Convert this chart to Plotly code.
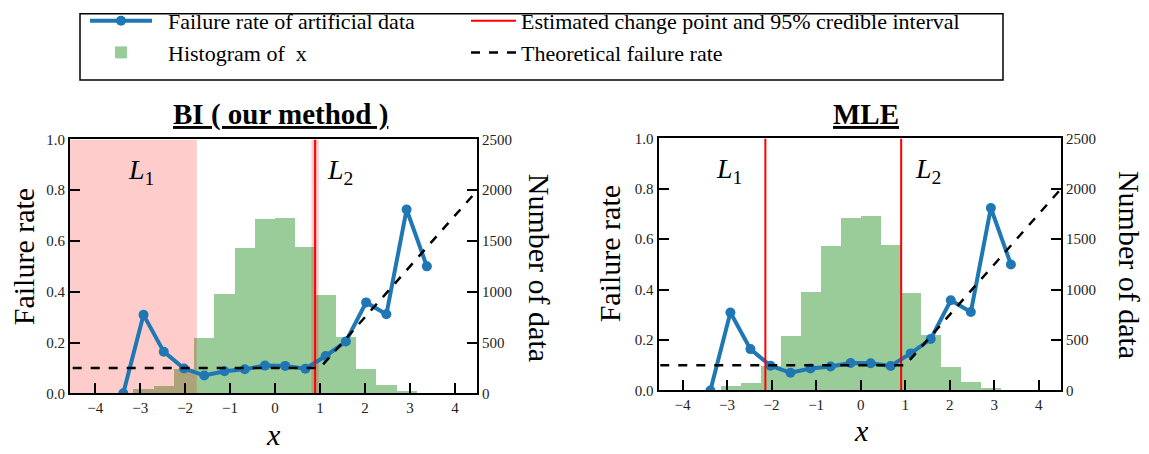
import plotly.graph_objects as go

# ---------------- data ----------------
bin_centers = [-3.375, -2.925, -2.475, -2.025, -1.575, -1.125, -0.675, -0.225,
               0.225, 0.675, 1.125, 1.575, 2.025, 2.475, 2.925, 3.375]
bin_width = 0.45
hist_counts = [3, 35, 72, 237, 537, 972, 1430, 1710,
               1724, 1437, 964, 546, 233, 75, 16, 3]
failure_rate = [0.0, 0.309, 0.164, 0.098, 0.070, 0.087, 0.095, 0.109,
                0.108, 0.097, 0.147, 0.204, 0.358, 0.311, 0.724, 0.500]
theory_x = [-4.5, 1.0, 4.5]
theory_y = [0.1, 0.1, 0.8]
bi_ci = [(-4.8, -1.74), (0.81, 0.97)]
bi_cp = [0.89]
mle_cp = [-2.14, 0.91]

x_ticks = [-4, -3, -2, -1, 0, 1, 2, 3, 4]
rate_ticks = [0.0, 0.2, 0.4, 0.6, 0.8, 1.0]
count_ticks = [0, 500, 1000, 1500, 2000, 2500]
rate_range = [0, 1]
count_range = [0, 2500]

W, H = 1149, 454
SERIF = "Liberation Serif, Times New Roman, serif"
BLUE = "#1f77b4"
SP = "\u2002"

fig = go.Figure()


def add_panel(xa, ycount, yrate, cis, cps, show_legend):
    # histogram (base layer)
    fig.add_trace(go.Bar(
        x=bin_centers, y=hist_counts, width=bin_width,
        marker=dict(color="rgba(0,128,0,0.4)", line=dict(width=0)),
        name=SP + "Histogram of  x", legend="legend", legendrank=2,
        showlegend=show_legend, xaxis=xa, yaxis=ycount))
    # credible intervals
    for lo, hi in cis:
        fig.add_trace(go.Scatter(
            x=[lo, hi, hi, lo, lo],
            y=[count_range[0], count_range[0], count_range[1], count_range[1], count_range[0]],
            mode="lines", fill="toself", fillcolor="rgba(255,0,0,0.2)",
            line=dict(width=0), showlegend=False, hoverinfo="skip",
            xaxis=xa, yaxis=ycount))
    # failure rate
    fig.add_trace(go.Scatter(
        x=bin_centers, y=failure_rate, mode="lines+markers",
        line=dict(color=BLUE, width=4), marker=dict(color=BLUE, size=10),
        name=SP + "Failure rate of artificial data", legend="legend", legendrank=1,
        showlegend=show_legend, xaxis=xa, yaxis=yrate))
    # change points
    for i, cp in enumerate(cps):
        fig.add_trace(go.Scatter(
            x=[cp, cp], y=rate_range, mode="lines",
            line=dict(color="red", width=2),
            name="Estimated change point and 95% credible interval",
            legend="legend2", legendrank=1,
            showlegend=show_legend and i == 0, xaxis=xa, yaxis=yrate))
    # theoretical
    fig.add_trace(go.Scatter(
        x=theory_x, y=theory_y, mode="lines",
        line=dict(color="black", width=2.5, dash="dash"),
        name="Theoretical failure rate", legend="legend2", legendrank=2,
        showlegend=show_legend, xaxis=xa, yaxis=yrate))


add_panel("x", "y", "y2", bi_ci, bi_cp, True)
add_panel("x2", "y3", "y4", [], mle_cp, False)

tickfont = dict(family=SERIF, size=15, color="#222")
common_x = dict(range=[-4.56, 4.49], tickvals=x_ticks, ticks="inside", ticklen=10,
                tickwidth=1.5, tickcolor="black", showline=True, linewidth=2,
                linecolor="black", mirror=True, showgrid=False, zeroline=False,
                tickfont=tickfont)
common_y = dict(ticks="inside", ticklen=10, tickwidth=1.5, tickcolor="black",
                showline=True, linewidth=2, linecolor="black", showgrid=False,
                zeroline=False, tickfont=tickfont)

left_x = [70 / W, 477 / W]
left_y = [(H - 399) / H, (H - 134) / H]
right_x = [658.5 / W, 1061 / W]
right_y = [(H - 396) / H, (H - 133) / H]

fig.update_layout(
    xaxis=dict(domain=left_x, anchor="y", **common_x),
    yaxis=dict(domain=left_y, anchor="x", side="right", range=count_range,
               tickvals=count_ticks, **common_y),
    yaxis2=dict(overlaying="y", anchor="x", side="left", range=rate_range,
                tickvals=rate_ticks, tickformat=".1f", **common_y),
    xaxis2=dict(domain=right_x, anchor="y3", **{**common_x, "range": [-4.54, 4.50]}),
    yaxis3=dict(domain=right_y, anchor="x2", side="right", range=count_range,
                tickvals=count_ticks, **common_y),
    yaxis4=dict(overlaying="y3", anchor="x2", side="left", range=rate_range,
                tickvals=rate_ticks, tickformat=".1f", **common_y),
)

ann = []


def label(text, px, py, size, angle=0, **kw):
    ann.append(dict(text=text, x=px / W, y=(H - py) / H, xref="paper", yref="paper",
                    xanchor="center", yanchor="middle", showarrow=False,
                    textangle=angle, font=dict(family=SERIF, size=size, color="black"),
                    **kw))


label("Failure rate", 23, 257, 30, -90)
label("Number of data", 539, 268, 30, 90)
label("<i>x</i>", 273, 442, 30)
label("Failure rate", 609, 254, 30, -90)
label("Number of data", 1129, 265, 30, 90)
label("<i>x</i>", 861, 438, 30)
label("<b><u>BI ( our method )</u></b>", 280, 108, 29)
label("<b><u>MLE</u></b>", 866, 108, 29)


def region_label(text, xa, ya, xv, yv):
    ann.append(dict(text=text, x=xv, y=yv, xref=xa, yref=ya, showarrow=False,
                    xanchor="center", yanchor="middle",
                    font=dict(family=SERIF, size=28, color="black")))


region_label("<i>L</i><sub>1</sub>", "x", "y2", -2.99, 0.875)
region_label("<i>L</i><sub>2</sub>", "x", "y2", 1.44, 0.875)
region_label("<i>L</i><sub>1</sub>", "x2", "y4", -2.96, 0.872)
region_label("<i>L</i><sub>2</sub>", "x2", "y4", 1.51, 0.872)

legend_font = dict(family=SERIF, size=22, color="black")
fig.update_layout(
    annotations=ann,
    width=W, height=H,
    margin=dict(l=0, r=0, t=0, b=0),
    paper_bgcolor="white", plot_bgcolor="white",
    showlegend=True,
    bargap=0,
    legend=dict(x=85 / W, y=(H + 12) / H, xanchor="left", yanchor="top",
                font=legend_font, bgcolor="rgba(0,0,0,0)", borderwidth=0,
                itemwidth=62, traceorder="normal"),
    legend2=dict(x=466 / W, y=(H + 12) / H, xanchor="left", yanchor="top",
                 font=legend_font, bgcolor="rgba(0,0,0,0)", borderwidth=0,
                 itemwidth=45, traceorder="normal"),
    shapes=[dict(type="rect", xref="paper", yref="paper",
                 x0=80 / W, x1=1003 / W, y0=(H - 72) / H, y1=(H - 3) / H,
                 line=dict(color="black", width=1.5), fillcolor="rgba(0,0,0,0)")],
)

fig.write_html("out.html", config={"displayModeBar": False},
               post_script="document.body.style.margin='0';")
